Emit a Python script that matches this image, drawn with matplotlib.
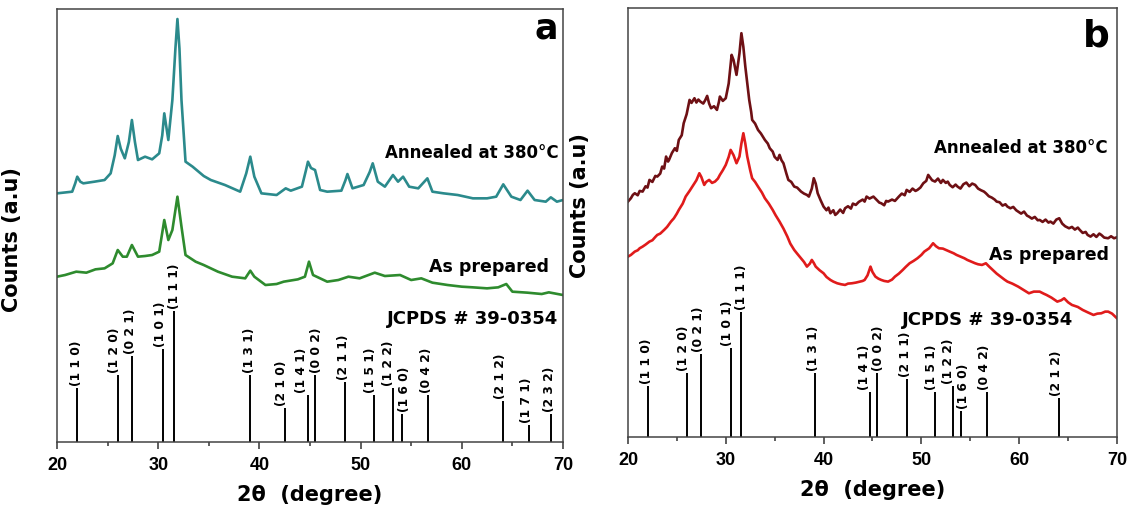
import matplotlib
matplotlib.use("Agg")
import matplotlib.pyplot as plt

# JCPDS # 39-0354 reference lines
hkl = ['(1 1 0)', '(1 2 0)', '(0 2 1)', '(1 0 1)', '(1 1 1)', '(1 3 1)', '(2 1 0)',
       '(1 4 1)', '(0 0 2)', '(2 1 1)', '(1 5 1)', '(1 2 2)', '(1 6 0)', '(0 4 2)',
       '(2 1 2)', '(1 7 1)', '(2 3 2)']
ref_pos = [22.0, 26.0, 27.45, 30.5, 31.6, 39.1, 42.55, 44.8, 45.5, 48.5, 51.35,
           53.2, 54.1, 56.7, 64.1, 66.6, 68.8]
ref_int = [41, 51, 66, 71, 100, 51, 26, 36, 51, 46, 36, 41, 21, 36, 31, 13, 21]
# label nudges so the crowded hkl labels do not collide
label_shift = [-0.1, -0.35, -0.2, -0.3, 0.0, -0.1, -0.35, -0.6, 0.15, -0.15,
               -0.35, -0.4, 0.25, -0.2, -0.3, -0.2, -0.15]
# lines (2 1 0), (1 7 1), (2 3 2) are left out in panel b
skip_b = ['(2 1 0)', '(1 7 1)', '(2 3 2)']

# panel a: annealed film
tt_a_ann = [20.0, 21.5, 21.8, 22.0, 22.3, 22.6, 23.7, 24.7, 25.3, 25.7, 26.0, 26.3,
            26.7, 27.1, 27.4, 27.7, 28.0, 28.7, 29.4, 30.1, 30.4, 30.6, 31.0, 31.4,
            31.7, 31.9, 32.1, 32.3, 32.7, 33.4, 34.5, 35.2, 36.6, 38.1, 38.7, 39.1,
            39.5, 40.2, 41.7, 42.6, 43.1, 44.2, 44.6, 44.8, 45.1, 45.5, 46.0, 46.7,
            48.1, 48.5, 48.7, 49.2, 50.3, 50.9, 51.2, 51.7, 52.4, 53.2, 53.7, 54.2,
            54.8, 55.7, 56.6, 57.1, 58.2, 59.6, 61.1, 62.5, 63.4, 64.1, 64.9, 65.8,
            66.5, 67.2, 68.3, 68.8, 69.4, 70.0]
cnt_a_ann = [746, 751, 776, 796, 781, 776, 781, 786, 806, 860, 918, 880,
             851, 900, 966, 900, 846, 856, 848, 866, 920, 986, 906, 1026,
             1180, 1269, 1180, 1026, 841, 826, 798, 786, 771, 751, 806, 856,
             796, 746, 741, 761, 754, 766, 815, 841, 822, 816, 756, 751,
             754, 785, 804, 761, 771, 810, 836, 781, 766, 801, 781, 796,
             766, 761, 791, 751, 746, 741, 731, 731, 736, 773, 736, 726,
             754, 726, 721, 734, 721, 726]

# panel a: as prepared film
tt_a_prep = [20.0, 20.8, 21.9, 22.9, 23.8, 24.7, 25.5, 26.0, 26.5, 26.9, 27.4, 28.0,
             28.7, 29.4, 30.1, 30.6, 31.0, 31.4, 31.9, 32.3, 32.7, 33.7, 34.5, 35.9,
             37.3, 38.6, 39.1, 39.5, 40.6, 41.7, 42.4, 43.8, 44.5, 44.9, 45.3, 46.7,
             47.8, 48.8, 49.9, 51.4, 52.4, 53.9, 55.0, 56.0, 57.1, 58.6, 60.0, 61.1,
             62.5, 63.6, 64.4, 65.0, 66.5, 67.9, 68.6, 70.0]
cnt_a_prep = [496, 501, 511, 508, 518, 521, 536, 576, 556, 556, 591, 556,
              558, 561, 571, 666, 606, 636, 736, 646, 561, 541, 531, 511,
              496, 491, 514, 496, 471, 474, 481, 488, 496, 541, 501, 481,
              486, 496, 491, 508, 498, 501, 486, 491, 478, 471, 466, 464,
              461, 464, 474, 451, 448, 444, 449, 441]

# panel b: annealed film
tt_b_ann = [20.0, 20.3, 20.5, 20.7, 21.0, 21.2, 21.5, 21.8, 22.0, 22.2, 22.5, 22.8,
            23.0, 23.3, 23.5, 23.7, 23.9, 24.1, 24.2, 24.5, 24.8, 25.0, 25.2, 25.5,
            25.7, 26.0, 26.3, 26.5, 26.8, 27.0, 27.2, 27.4, 27.7, 27.9, 28.1, 28.3,
            28.5, 28.8, 29.1, 29.3, 29.4, 29.7, 30.0, 30.3, 30.6, 30.8, 31.1, 31.4,
            31.6, 31.8, 32.0, 32.2, 32.4, 32.6, 32.7, 33.0, 33.3, 33.6, 34.0, 34.3,
            34.5, 34.8, 35.0, 35.3, 35.5, 35.7, 35.9, 36.2, 36.4, 36.7, 37.0, 37.3,
            37.7, 38.0, 38.3, 38.5, 38.8, 39.0, 39.2, 39.4, 39.7, 40.0, 40.3, 40.5,
            40.7, 41.0, 41.2, 41.4, 41.7, 42.0, 42.2, 42.5, 42.8, 43.0, 43.3, 43.6,
            44.0, 44.2, 44.4, 44.7, 45.1, 45.4, 45.7, 45.9, 46.2, 46.4, 46.6, 47.0,
            47.3, 47.7, 48.0, 48.3, 48.5, 48.8, 49.1, 49.4, 49.6, 49.9, 50.2, 50.5,
            50.7, 50.9, 51.1, 51.4, 51.7, 52.0, 52.2, 52.5, 52.7, 52.9, 53.2, 53.5,
            53.7, 54.0, 54.3, 54.6, 54.9, 55.2, 55.5, 55.8, 56.1, 56.4, 56.6, 56.9,
            57.2, 57.5, 57.7, 58.0, 58.3, 58.6, 58.8, 59.1, 59.4, 59.7, 59.9, 60.2,
            60.5, 60.8, 61.0, 61.3, 61.6, 61.9, 62.1, 62.4, 62.7, 63.0, 63.2, 63.5,
            63.8, 64.1, 64.4, 64.7, 65.1, 65.4, 65.7, 66.0, 66.2, 66.5, 66.8, 67.0,
            67.3, 67.6, 67.9, 68.2, 68.4, 68.7, 69.1, 69.4, 69.7, 70.0]
cnt_b_ann = [706, 716, 726, 731, 725, 738, 736, 752, 748, 771, 765, 783,
             781, 790, 811, 805, 841, 826, 831, 852, 866, 858, 891, 905,
             941, 968, 1011, 1002, 1016, 1003, 1012, 1006, 1000, 1010, 1023, 1000,
             986, 992, 981, 1005, 1021, 1008, 1016, 1060, 1146, 1130, 1086, 1150,
             1211, 1170, 1111, 1060, 1011, 975, 951, 940, 921, 910, 891, 880,
             866, 856, 840, 831, 846, 830, 821, 790, 771, 765, 751, 748,
             736, 730, 726, 721, 745, 776, 760, 731, 710, 691, 680, 688,
             671, 680, 666, 671, 682, 672, 686, 692, 685, 700, 696, 705,
             712, 706, 721, 715, 721, 712, 703, 701, 695, 708, 706, 712,
             708, 721, 730, 725, 741, 735, 745, 738, 741, 748, 761, 768,
             786, 778, 770, 766, 775, 762, 771, 762, 766, 756, 749, 757,
             751, 745, 758, 763, 752, 760, 756, 745, 740, 736, 731, 722,
             718, 712, 706, 704, 694, 698, 691, 686, 690, 680, 676, 670,
             676, 664, 661, 655, 660, 650, 651, 645, 652, 643, 646, 640,
             652, 656, 640, 632, 626, 630, 622, 628, 621, 612, 615, 606,
             601, 608, 600, 610, 606, 598, 596, 602, 596, 599]

# panel b: as prepared film
tt_b_prep = [20.0, 20.3, 20.7, 21.0, 21.2, 21.5, 21.8, 22.2, 22.5, 22.8, 23.0, 23.3,
             23.7, 24.0, 24.4, 24.7, 25.0, 25.2, 25.6, 25.9, 26.3, 26.7, 27.0, 27.3,
             27.5, 27.8, 28.0, 28.3, 28.6, 28.9, 29.2, 29.4, 29.7, 30.0, 30.3, 30.5,
             30.8, 31.1, 31.4, 31.6, 31.8, 32.0, 32.2, 32.5, 32.7, 33.0, 33.3, 33.7,
             34.0, 34.4, 34.8, 35.1, 35.5, 35.9, 36.3, 36.6, 37.0, 37.3, 37.7, 38.0,
             38.3, 38.6, 38.8, 39.0, 39.2, 39.6, 40.0, 40.3, 40.7, 41.0, 41.4, 41.8,
             42.2, 42.5, 42.9, 43.3, 43.7, 44.0, 44.2, 44.5, 44.8, 45.0, 45.3, 45.6,
             45.9, 46.2, 46.6, 47.0, 47.3, 47.7, 48.1, 48.4, 48.8, 49.2, 49.6, 50.0,
             50.3, 50.8, 51.2, 51.5, 51.8, 52.2, 52.5, 52.9, 53.3, 53.6, 54.0, 54.4,
             54.7, 55.1, 55.5, 55.8, 56.2, 56.6, 56.9, 57.3, 57.7, 58.1, 58.5, 58.8,
             59.3, 59.9, 60.4, 61.0, 61.5, 62.1, 62.5, 62.8, 63.3, 63.9, 64.3, 64.6,
             65.0, 65.4, 66.0, 66.5, 67.0, 67.6, 68.0, 68.4, 68.8, 69.1, 69.5, 70.0]
cnt_b_prep = [541, 546, 556, 560, 566, 571, 577, 586, 590, 600, 606, 610,
              621, 630, 646, 656, 670, 681, 700, 721, 738, 756, 770, 791,
              780, 756, 765, 771, 762, 766, 775, 786, 800, 816, 840, 861,
              845, 821, 841, 880, 911, 880, 841, 800, 776, 765, 751, 733,
              716, 700, 681, 665, 646, 625, 601, 580, 561, 550, 536, 525,
              511, 520, 531, 522, 511, 500, 491, 480, 471, 466, 461, 458,
              456, 460, 461, 463, 466, 468, 471, 485, 511, 495, 481, 475,
              471, 468, 466, 472, 481, 490, 501, 510, 521, 528, 536, 546,
              556, 566, 581, 572, 566, 565, 561, 556, 551, 546, 541, 536,
              531, 526, 521, 518, 516, 521, 512, 501, 490, 481, 472, 466,
              460, 451, 442, 431, 436, 436, 430, 426, 418, 406, 410, 416,
              404, 396, 390, 381, 374, 366, 370, 371, 376, 376, 370, 356]

bold = dict(fontweight='bold', family='DejaVu Sans')

fig = plt.figure(figsize=(11.38, 5.12), dpi=100)
ax_a = fig.add_axes([0.0501, 0.1367, 0.4446, 0.8457])
ax_b = fig.add_axes([0.5518, 0.1465, 0.4297, 0.8375])


def draw_sticks(ax, scale, skip):
    for name, pos, inten, dx in zip(hkl, ref_pos, ref_int, label_shift):
        if name in skip:
            continue
        h = inten * scale
        ax.vlines(pos, 0, h, color='black', lw=1.4)
        ax.text(pos + dx, h + 6, name, rotation=90, ha='center', va='bottom',
                fontsize=8.8, **bold)


def style_axes(ax, ymax):
    ax.set_xlim(20, 70)
    ax.set_ylim(0, ymax)
    ax.set_yticks([])
    ax.set_xticks(range(20, 71, 10))
    ax.set_xticks(range(25, 70, 10), minor=True)
    ax.tick_params(axis='x', which='major', direction='out', length=5, width=1.1,
                   labelsize=13, pad=6, color='#333333')
    ax.tick_params(axis='x', which='minor', direction='out', length=3, width=1.1,
                   color='#333333')
    for lab in ax.get_xticklabels():
        lab.set_fontweight('bold')
        lab.set_family('Liberation Sans')
    for sp in ax.spines.values():
        sp.set_linewidth(1.1)
        sp.set_color('#444444')
    ax.set_xlabel('2θ  (degree)', fontsize=15, labelpad=8, **bold)
    ax.set_ylabel('Counts (a.u)', fontsize=15, **bold)


# panel a
ax_a.plot(tt_a_ann, cnt_a_ann, color='#2b8a8c', lw=1.9)
ax_a.plot(tt_a_prep, cnt_a_prep, color='#2e8b2e', lw=1.9)
draw_sticks(ax_a, 3.93, [])
style_axes(ax_a, 1299)
ax_a.yaxis.set_label_coords(-0.069, 0.467)
ax_a.text(69.6, 866, 'Annealed at 380°C', ha='right', va='center', fontsize=12, **bold)
ax_a.text(68.6, 526, 'As prepared', ha='right', va='center', fontsize=12.5, **bold)
ax_a.text(69.5, 368, 'JCPDS # 39-0354', ha='right', va='center', fontsize=13, **bold)
ax_a.text(0.99, 0.955, 'a', transform=ax_a.transAxes, ha='right', va='center',
          fontsize=25, **bold)

# panel b
ax_b.plot(tt_b_ann, cnt_b_ann, color='#6e1014', lw=1.9)
ax_b.plot(tt_b_prep, cnt_b_prep, color='#e01b1b', lw=1.9)
draw_sticks(ax_b, 3.76, skip_b)
style_axes(ax_b, 1286)
ax_b.yaxis.set_label_coords(-0.078, 0.54)
ax_b.text(69.0, 866, 'Annealed at 380°C', ha='right', va='center', fontsize=12, **bold)
ax_b.text(69.15, 546, 'As prepared', ha='right', va='center', fontsize=12.5, **bold)
ax_b.text(65.5, 351, 'JCPDS # 39-0354', ha='right', va='center', fontsize=13, **bold)
ax_b.text(0.985, 0.935, 'b', transform=ax_b.transAxes, ha='right', va='center',
          fontsize=27, **bold)

fig.savefig('out.png', dpi=100)
